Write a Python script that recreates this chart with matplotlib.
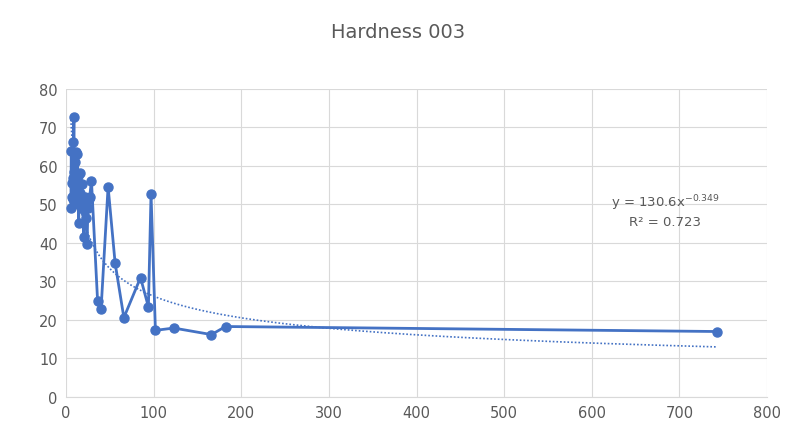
import numpy as np
import matplotlib
matplotlib.use('Agg')
import matplotlib.pyplot as plt

# data (sorted by x, as in the original)
x_vals = [5.5, 6, 6.5, 7, 7.5, 8, 8.5, 9, 9.5, 10, 10.5, 11, 11.5, 12, 12.5, 13,
          13.5, 14, 14.5, 15, 15.5, 16, 17, 18, 19, 20, 21, 22, 23, 24, 25, 26,
          27, 29, 36, 40, 48, 56, 66, 85, 94, 97, 102, 123, 166, 182, 743]
y_vals = [49.2, 63.8, 52, 55.5, 57, 51.5, 66.2, 72.8, 58.5, 54, 61, 50.5, 63.5,
          56, 52.5, 63, 57.5, 50, 45.2, 55, 58.2, 53, 49.5, 55.2, 51, 41.6, 48.5,
          52, 46.5, 39.8, 49.2, 51.5, 52, 56.2, 25, 22.9, 54.6, 34.8, 20.6, 31,
          23.4, 52.8, 17.3, 17.9, 16.2, 18.3, 17]

# power trendline coefficients as shown on the chart
fit_a = 130.6
fit_b = -0.349
r2 = 0.723

blue = '#4472C4'
grey_text = '#595959'

fig = plt.figure(figsize=(7.88, 4.27), dpi=100)
ax = fig.add_axes([0.0838, 0.068, 0.8896, 0.7213])

ax.plot(x_vals, y_vals, '-o', color=blue, linewidth=2, markersize=6.5, zorder=3)

xt = np.linspace(min(x_vals), max(x_vals), 400)
ax.plot(xt, fit_a * xt ** fit_b, linestyle=(0, (1, 1.2)), color=blue, linewidth=1.2, zorder=2)

ax.text(684, 50.5, 'y = 130.6x$^{-0.349}$', ha='center', va='center', fontsize=9.5, color=grey_text)
ax.text(684, 45.5, f'R² = {r2}', ha='center', va='center', fontsize=9.5, color=grey_text)

ax.set_xlim(0, 800)
ax.set_ylim(0, 80)
ax.set_xticks(range(0, 801, 100))
ax.set_yticks(range(0, 81, 10))
ax.grid(True, color='#D9D9D9', linewidth=0.8)
ax.set_axisbelow(True)
for side in ['top', 'right', 'left']:
    ax.spines[side].set_visible(False)
ax.spines['bottom'].set_color('#D9D9D9')
ax.tick_params(length=0, labelsize=10.5, colors=grey_text, pad=6)

fig.text(0.505, 0.925, 'Hardness 003', ha='center', va='center', fontsize=14, color=grey_text)

fig.savefig('out.png', dpi=100)
